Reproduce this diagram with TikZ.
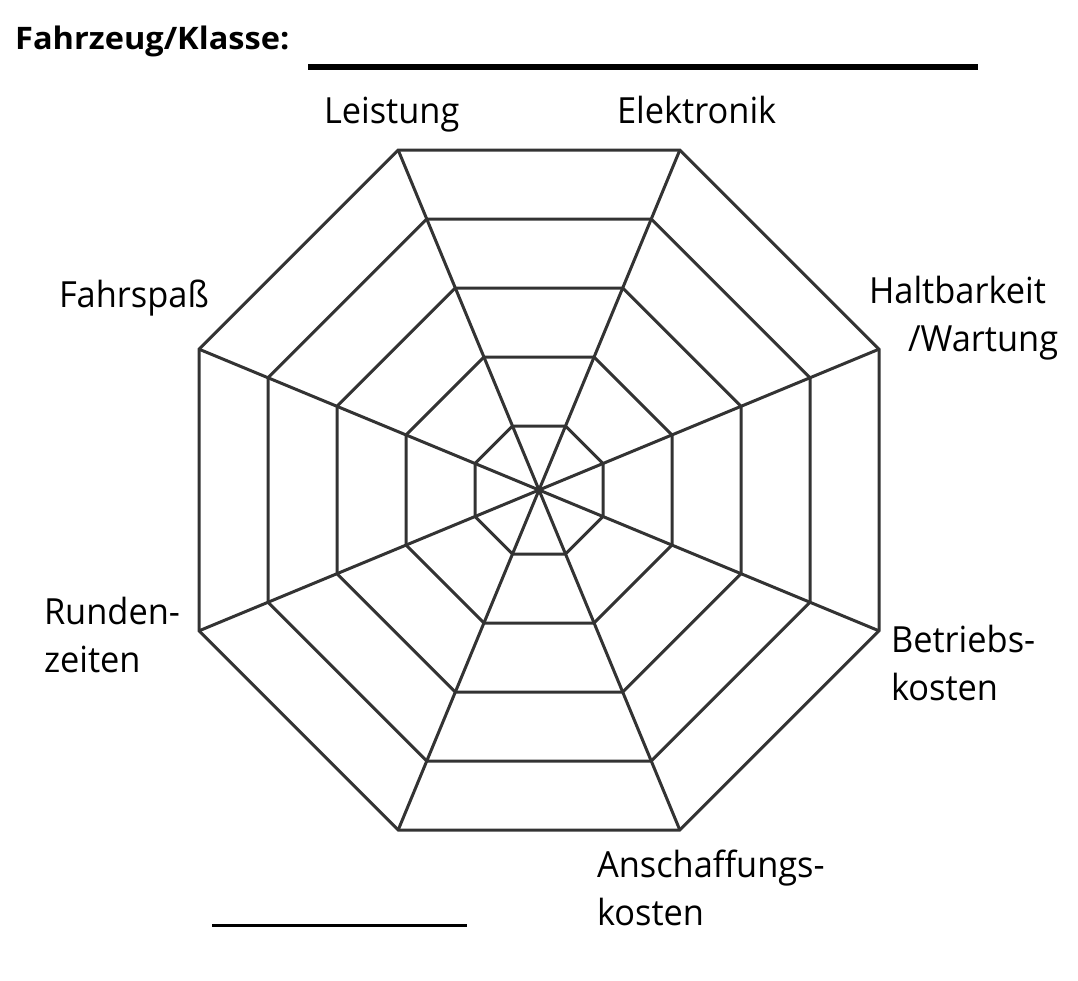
\documentclass[tikz,border=0pt]{standalone}
\usepackage{fontspec}
\setmainfont{Open Sans}[FakeStretch=0.955]
\newfontfamily\titlefont{Open Sans}[FakeStretch=1.05]
\begin{document}
\begin{tikzpicture}[x=1pt,y=-1pt,
  web/.style={draw=black!80,line width=3pt,line join=miter},
  lbl/.style={inner sep=0pt,outer sep=0pt,font=\fontsize{36}{48}\selectfont,align=left},
  rule/.style={draw=black,line cap=butt}]
\useasboundingbox (0,0) rectangle (1078,980);
\coordinate (c) at (539,490);
% rings
\foreach \a [count=\r] in {64,133,202,271,340}{
  \pgfmathsetmacro{\b}{\a*0.41421356}
  \path (c) ++(-\b,-\a) coordinate (r\r p1)
        (c) ++(\b,-\a) coordinate (r\r p2)
        (c) ++(\a,-\b) coordinate (r\r p3)
        (c) ++(\a,\b) coordinate (r\r p4)
        (c) ++(\b,\a) coordinate (r\r p5)
        (c) ++(-\b,\a) coordinate (r\r p6)
        (c) ++(-\a,\b) coordinate (r\r p7)
        (c) ++(-\a,-\b) coordinate (r\r p8);
  \draw[web] (r\r p1) -- (r\r p2) -- (r\r p3) -- (r\r p4) -- (r\r p5) -- (r\r p6) -- (r\r p7) -- (r\r p8) -- cycle;
}
\foreach \k in {1,...,8}{ \draw[web] (c) -- (r5p\k); }
% title and rules
\node[inner sep=0pt,anchor=base west,font=\titlefont\fontsize{31}{36}\selectfont\bfseries] (title) at (15,49) {Fahrzeug/Klasse:};
\coordinate (t1) at (308,67); \coordinate (t2) at (978,67);
\draw[rule,line width=6pt] (t1) -- (t2);
\coordinate (b1) at (212,925); \coordinate (b2) at (467,925);
\draw[rule,line width=3pt] (b1) -- (b2);
% labels
\node[lbl,anchor=base west] (leistung) at (324,123) {Leistung};
\node[lbl,anchor=base west] (elektronik) at (617,123) {Elektronik};
\node[lbl,anchor=base west] (fahrspass) at (59,307) {Fahrspaß};
\node[lbl,anchor=base west] (halt) at (869,351) {Haltbarkeit\\\hspace*{39pt}/Wartung};
\node[lbl,anchor=base west] (runden) at (44,672) {Runden-\\zeiten};
\node[lbl,anchor=base west] (betrieb) at (891,700) {Betriebs-\\kosten};
\node[lbl,anchor=base west] (anschaff) at (597,925) {Anschaffungs-\\kosten};
\end{tikzpicture}
\end{document}
